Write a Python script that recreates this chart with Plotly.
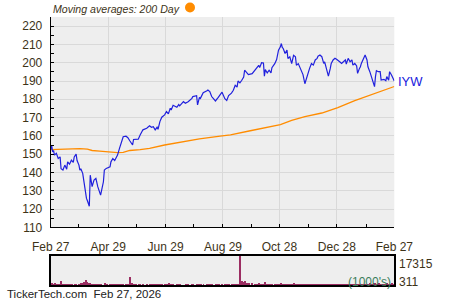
import plotly.graph_objects as go
import pandas as pd

start_date = "2025-02-27"
end_date = "2026-02-27"

# Price series (IYW), days since start date and closing values
day_offsets = [
    0, 1, 2, 3, 4, 6, 8, 10, 11, 13, 15, 17, 18, 20, 22, 24, 25, 27, 28, 30,
    31, 32, 34, 35, 37, 38, 39, 40, 41, 42, 44, 46, 48, 50, 52, 53, 56, 57, 59, 63,
    64, 66, 68, 70, 71, 73, 75, 77, 80, 82, 84, 86, 87, 88, 90, 93, 95, 98, 102, 105,
    107, 109, 111, 113, 114, 116, 118, 121, 123, 125, 127, 128, 130, 134, 136, 137, 141, 143, 146, 150,
    151, 155, 156, 158, 159, 162, 166, 167, 169, 171, 175, 176, 178, 182, 185, 187, 189, 192, 194, 196,
    198, 199, 201, 203, 205, 206, 208, 210, 214, 217, 219, 221, 222, 224, 226, 227, 228, 230, 232, 234,
    235, 238, 240, 242, 244, 245, 246, 247, 249, 251, 252, 254, 256, 258, 260, 261, 263, 265, 267, 268,
    270, 272, 274, 275, 277, 279, 281, 283, 284, 286, 288, 290, 291, 293, 295, 297, 298, 300, 302, 304,
    305, 307, 309, 311, 313, 314, 316, 318, 320, 321, 323, 325, 326, 328, 329, 330, 332, 334, 336, 337,
    339, 341, 343, 344, 345, 346, 348, 350, 351, 352, 354, 356, 357, 359, 360, 362, 364, 365,
]
price = [
    152.5, 155.0, 151.3, 152.0, 149.5, 150.5, 147.6, 148.5, 142.0, 141.3,
    144.0, 141.8, 145.8, 144.5, 146.7, 145.5, 148.5, 150.0, 146.5, 144.0,
    141.3, 142.0, 139.5, 135.8, 130.4, 125.8, 124.5, 122.0, 121.5, 138.5,
    132.2, 135.8, 136.7, 132.2, 129.5, 127.6, 134.9, 141.3, 142.2, 143.1,
    145.8, 147.6, 146.5, 148.5, 149.5, 153.0, 156.7, 159.5, 159.8, 159.0,
    157.3, 155.8, 155.0, 158.0, 158.2, 158.2, 160.5, 163.3, 164.2, 165.5,
    164.7, 165.0, 163.3, 164.7, 163.6, 167.8, 170.2, 171.5, 173.3, 172.0,
    175.1, 174.2, 176.7, 175.6, 177.1, 176.4, 178.7, 177.8, 178.7, 180.5,
    181.5, 182.0, 176.9, 181.0, 180.5, 183.6, 184.7, 185.1, 184.2, 181.5,
    179.1, 179.6, 181.0, 183.9, 180.3, 179.4, 182.0, 183.4, 184.9, 187.6,
    186.7, 190.0, 189.0, 190.4, 192.2, 195.9, 194.4, 193.5, 194.0, 196.2,
    197.7, 198.6, 197.3, 200.0, 199.8, 192.6, 196.2, 194.4, 195.9, 194.4,
    197.3, 199.5, 201.7, 206.9, 208.7, 210.5, 208.4, 207.8, 205.0, 206.9,
    202.3, 203.2, 199.5, 204.0, 203.2, 198.6, 199.5, 196.8, 194.0, 193.5,
    188.5, 192.4, 195.1, 196.9, 199.6, 198.7, 201.5, 202.4, 203.6, 204.2,
    203.3, 199.6, 200.5, 196.0, 192.7, 196.9, 199.6, 201.5, 202.4, 201.8,
    201.5, 200.5, 199.6, 200.5, 201.5, 199.3, 202.4, 200.5, 201.5, 198.7,
    199.6, 198.2, 194.2, 196.9, 197.8, 199.6, 201.5, 204.2, 201.5, 197.8,
    195.1, 191.5, 187.8, 186.9, 192.4, 195.6, 195.1, 195.1, 190.5, 190.5,
    190.9, 190.2, 192.4, 190.5, 195.1, 193.3, 191.5, 190.0,
]
# Daily volume (1000's)
volume = [
    1300, 1500, 1200, 900, 1900, 1100, 1000, 1300, 2650, 1000,
    1200, 900, 800, 1000, 1100, 311, 900, 800, 311, 1200,
    1300, 1500, 1800, 2000, 3240, 2200, 1700, 1600, 1500, 1200,
    1000, 900, 1300, 800, 900, 1000, 311, 1400, 1100, 900,
    1000, 1300, 1000, 900, 800, 1000, 1200, 1100, 1000, 1200,
    5200, 1400, 1200, 1100, 1300, 900, 1000, 1100, 900, 1000,
    1300, 900, 800, 1000, 1300, 1100, 900, 800, 1000, 1400,
    1200, 900, 1000, 1300, 800, 1000, 311, 900, 1000, 1300,
    1000, 900, 1200, 800, 1000, 900, 1100, 800, 1000, 1200,
    1300, 900, 1000, 1200, 1000, 1100, 900, 1000, 1300, 1200,
    1300, 1000, 17315, 3000, 2200, 2600, 1700, 1500, 1400, 1300,
    1200, 1500, 1100, 1300, 1200, 2300, 1000, 1100, 1300, 1000,
    1200, 1100, 1000, 1300, 1400, 1200, 1100, 1300, 1000, 1100,
    1300, 1200, 1000, 1500, 1200, 1100, 1000, 1200, 1100, 1000,
    900, 1100, 1000, 1200, 1300, 1000, 1100, 900, 1000, 1200,
    1100, 1000, 1300, 900, 1000, 1100, 1200, 1000, 900, 1100,
    1000, 1200, 1100, 1000, 900, 1000, 1100, 1200, 1000, 1100,
    1300, 1000, 1200, 1100, 1000, 1200, 1300, 1100, 1000, 1200,
    1400, 1300, 1500, 1600, 1300, 1200, 1400, 1300, 1200, 1100,
    1300, 1200, 1400, 1300, 1200, 1400, 1300, 1500,
]

# 200-day moving average
ma_offsets = [0, 10, 21, 31, 39, 44, 52, 63, 71, 77, 84, 95, 105, 121, 137, 158,
              180, 191, 212, 233, 244, 256, 270, 288, 305, 323, 336, 341, 350, 365]
ma_200 = [152.5, 152.7, 153.0, 153.0, 152.8, 152.0, 151.7, 151.0, 150.8, 151.0,
          152.0, 152.5, 153.2, 155.0, 156.5, 158.3, 159.8, 160.6, 162.8, 165.0,
          166.2, 168.5, 170.5, 172.5, 175.5, 179.3, 181.6, 182.7, 184.3, 187.0]

tick_dates = ["2025-02-27", "2025-04-29", "2025-06-29", "2025-08-29",
              "2025-10-28", "2025-12-28", "2026-02-27"]
tick_labels = ["Feb 27", "Apr 29", "Jun 29", "Aug 29", "Oct 28", "Dec 28", "Feb 27"]
minor_tick_dates = ["2025-03-29", "2025-05-29", "2025-07-29", "2025-09-28",
                    "2025-11-28", "2026-01-28"]

vol_max = 17315
vol_min = 311
symbol = "IYW"

base = pd.Timestamp(start_date)
dates = base + pd.to_timedelta(day_offsets, unit="D")
ma_dates = base + pd.to_timedelta(ma_offsets, unit="D")

TXT = "#3d3318"
FONT = "Liberation Sans, Arial, sans-serif"
GRID = "#d9d9d9"
BLUE = "#2020dd"

fig = go.Figure()
fig.add_trace(go.Scatter(x=ma_dates, y=ma_200, mode="lines",
                         line=dict(color="#ff8c00", width=1.3),
                         xaxis="x", yaxis="y", hoverinfo="skip"))
fig.add_trace(go.Scatter(x=dates, y=price, mode="lines",
                         line=dict(color=BLUE, width=1.2),
                         xaxis="x", yaxis="y"))
fig.add_trace(go.Bar(x=dates, y=volume, base=0,
                     marker=dict(color="#9b2d62", line=dict(width=0)),
                     width=86400000 * 1.0, xaxis="x2", yaxis="y2"))

xd = [50.7 / 450, 394.3 / 450]
fig.update_layout(
    width=450, height=300,
    margin=dict(l=0, r=0, t=0, b=0, autoexpand=False),
    paper_bgcolor="white", plot_bgcolor="#eeeeee",
    showlegend=False, bargap=0,
    font=dict(family=FONT, size=12, color=TXT),
    xaxis=dict(domain=xd, anchor="y", type="date", automargin=False,
               range=[start_date, end_date],
               tickmode="array", tickvals=tick_dates, ticktext=tick_labels,
               showgrid=True, gridcolor=GRID, gridwidth=1,
               showline=True, linecolor="black", linewidth=1,
               ticks="inside", ticklen=3, tickcolor="black",
               minor=dict(tickmode="array", tickvals=minor_tick_dates,
                          ticks="inside", ticklen=3, tickcolor="black", showgrid=False),
               tickfont=dict(size=12, color=TXT), ticklabelstandoff=8,
               zeroline=False),
    yaxis=dict(domain=[(300 - 227.3) / 300, (300 - 17) / 300], anchor="x",
               automargin=False,
               range=[110, 225], tickmode="linear", tick0=110, dtick=10,
               showgrid=True, gridcolor=GRID, gridwidth=1,
               showline=True, linecolor="black", linewidth=1,
               ticks="inside", ticklen=3, tickcolor="black",
               minor=dict(dtick=5, tick0=110, ticks="inside", ticklen=3,
                          tickcolor="black", showgrid=False),
               tickfont=dict(size=12, color=TXT), ticklabelstandoff=5,
               zeroline=False),
    xaxis2=dict(domain=xd, anchor="y2", type="date", automargin=False,
                range=[start_date, end_date], showticklabels=False,
                showgrid=False, showline=True, mirror=True,
                linecolor="black", linewidth=1.5, ticks="", zeroline=False),
    yaxis2=dict(domain=[(300 - 285) / 300, (300 - 255.7) / 300], anchor="x2",
                automargin=False,
                range=[vol_min, vol_max], showticklabels=False, showgrid=False,
                showline=True, mirror=True, linecolor="black", linewidth=1.5,
                ticks="", zeroline=False),
)

fig.add_annotation(xref="paper", yref="paper", x=50.7 / 450, y=(300 - 9.3) / 300,
                   xanchor="left", yanchor="middle", showarrow=False,
                   text="<i>Moving averages: 200 Day</i>",
                   font=dict(size=10.6, color=TXT, family=FONT))
fig.add_shape(type="circle", xref="paper", yref="paper",
              x0=185 / 450, x1=195 / 450, y0=(300 - 12.5) / 300, y1=(300 - 2.5) / 300,
              fillcolor="#ff8c00", line=dict(width=0))
fig.add_annotation(xref="x", yref="y", x=dates[-1], y=price[-1],
                   xanchor="left", yanchor="middle", xshift=2, showarrow=False,
                   text=symbol, font=dict(size=13, color=BLUE, family=FONT))
fig.add_annotation(xref="paper", yref="paper", x=396.5 / 450, y=(300 - 264) / 300,
                   xanchor="left", yanchor="middle", showarrow=False,
                   text=str(vol_max), font=dict(size=12, color=TXT, family=FONT))
fig.add_annotation(xref="paper", yref="paper", x=396.5 / 450, y=(300 - 281.7) / 300,
                   xanchor="left", yanchor="middle", showarrow=False,
                   text=str(vol_min), font=dict(size=12, color=TXT, family=FONT))
fig.add_annotation(xref="paper", yref="paper", x=392.5 / 450, y=(300 - 281.7) / 300,
                   xanchor="right", yanchor="middle", showarrow=False,
                   text="(1000's)", font=dict(size=12, color="#3a7d5a", family=FONT))
fig.add_annotation(xref="paper", yref="paper", x=5 / 450, y=(300 - 294) / 300,
                   xanchor="left", yanchor="middle", showarrow=False,
                   text="TickerTech.com  Feb 27, 2026",
                   font=dict(size=11.5, color="#222222", family=FONT))

fig.write_html("out.html")
